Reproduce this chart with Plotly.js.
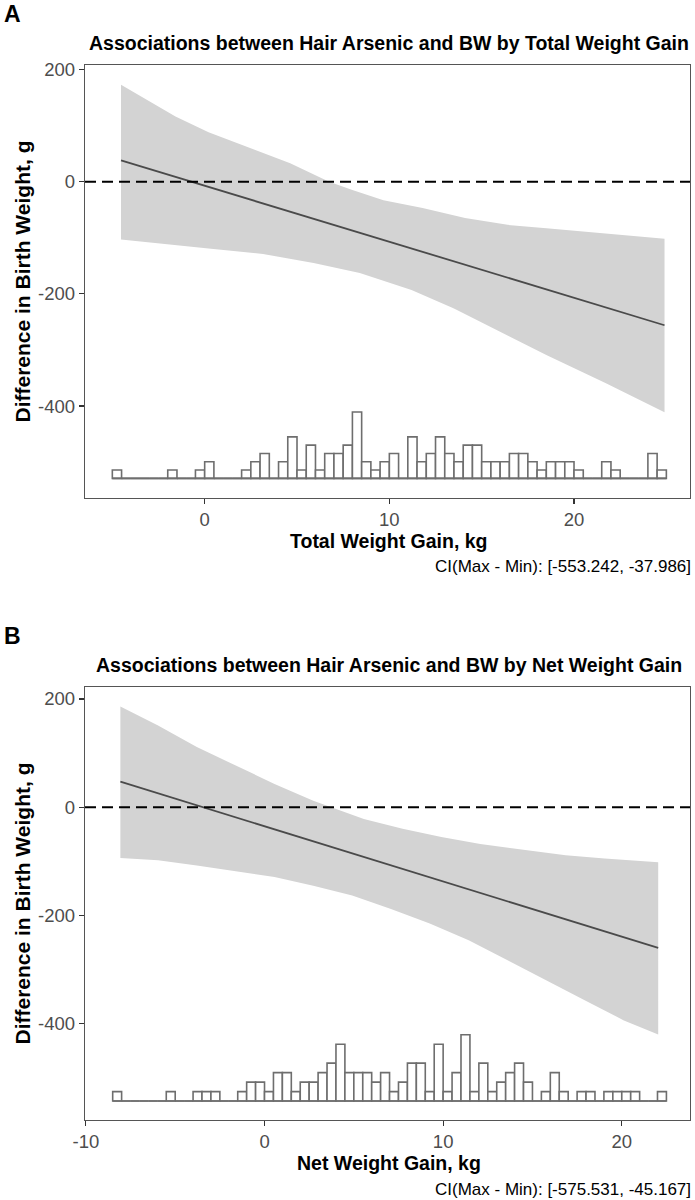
<!DOCTYPE html>
<html>
<head>
<meta charset="utf-8">
<script src="https://cdn.plot.ly/plotly-3.0.1.min.js"></script>
<style>
html,body{margin:0;padding:0;background:#fff;}
#chart{width:695px;height:1200px;}
</style>
</head>
<body>
<div id="chart"></div>
<script>
// ---------- Panel A : Total Weight Gain ----------
const titleA = "Associations between Hair Arsenic and BW by Total Weight Gain";
const xTitleA = "Total Weight Gain, kg";
const ciTextA = "CI(Max - Min): [-553.242, -37.986]";
const lineA_x = [-4.53, 24.9];
const lineA_y = [38, -256];
const upperA_x = [-4.53, -1.58, 0.21, 2.1, 4.63, 6.74, 8.0, 9.68, 11.8, 14.1, 16.4, 18.5, 20.6, 24.9];
const upperA_y = [173, 116, 88, 65, 33, 0, -15, -33, -47, -65, -77, -83, -89, -102];
const lowerA_x = [-4.53, -2.53, 0.21, 3.16, 5.9, 8.4, 11.2, 13.5, 16.0, 18.5, 21.7, 24.9];
const lowerA_y = [-103, -110, -119, -129, -145, -163, -193, -226, -267, -309, -359, -411];
const histA_start = -5;
const histA_counts = [1,0,0,0,0,0,1,0,0,1,
                      2,0,0,0,1,2,3,0,2,5,
                      1,4,1,3,3,4,8,2,1,2,
                      3,0,5,2,3,5,3,2,4,4,
                      2,2,2,3,3,2,1,2,2,2,
                      1,0,0,2,1,0,0,0,3,1];
const xTickValsA = [0, 10, 20];
const xTickTextA = ["0", "10", "20"];

// ---------- Panel B : Net Weight Gain ----------
const titleB = "Associations between Hair Arsenic and BW by Net Weight Gain";
const xTitleB = "Net Weight Gain, kg";
const ciTextB = "CI(Max - Min): [-575.531, -45.167]";
const lineB_x = [-8.07, 22.04];
const lineB_y = [47, -260];
const upperB_x = [-8.07, -5.96, -3.79, -1.62, 0.56, 2.73, 3.82, 5.56, 7.73, 9.9, 12.08, 14.25, 16.86, 19.04, 22.04];
const upperB_y = [186, 151, 111, 77, 43, 12, -1, -22, -40, -55, -68, -77, -89, -95, -102];
const lowerB_x = [-8.07, -5.96, -3.79, -1.62, 0.56, 2.73, 4.91, 7.08, 9.25, 11.43, 13.6, 15.78, 17.95, 20.12, 22.04];
const lowerB_y = [-94, -98, -108, -118, -129, -145, -163, -188, -215, -246, -283, -320, -357, -394, -420];
const histB_start = -8.5;
const histB_counts = [1,0,0,0,0,0,1,0,0,1,
                      1,1,0,0,1,2,2,1,3,3,
                      1,2,2,3,4,6,3,3,3,2,
                      3,1,2,4,4,1,6,1,3,7,
                      1,4,1,2,3,4,2,0,1,3,
                      1,0,1,1,0,1,1,1,1,0,
                      0,1];
const xTickValsB = [-10, 0, 10, 20];
const xTickTextB = ["-10", "0", "10", "20"];

// ---------- shared ----------
const binWidth = 0.5;
const yTickVals = [-400, -200, 0, 200];
const yTickText = ["-400", "-200", "0", "200"];
const yTitle = "Difference in Birth Weight, g";
const refValue = 0;

const FONT = "Liberation Sans, Arial, Helvetica, sans-serif";
const bandColor = "#D3D3D3";
const lineColor = "#4A4A4A";
const histColor = "#6E6E6E";

function panelTraces(xa, ya, yh, ux, uy, lx, ly, lnx, lny, hStart, counts) {
  const bx = ux.concat(lx.slice().reverse());
  const by = uy.concat(ly.slice().reverse());
  const centers = counts.map((c, i) => hStart + binWidth * (i + 0.5));
  const hEnd = hStart + binWidth * counts.length;
  return [
    {type:'scatter', mode:'lines', x:bx, y:by, fill:'toself', fillcolor:bandColor,
     line:{width:0, color:bandColor}, xaxis:xa, yaxis:ya, hoverinfo:'skip'},
    {type:'scatter', mode:'lines', x:lnx, y:lny, line:{color:lineColor, width:1.8},
     xaxis:xa, yaxis:ya, hoverinfo:'skip'},
    {type:'scatter', mode:'lines', x:[hStart, hEnd], y:[0, 0], line:{color:histColor, width:1.6},
     xaxis:xa, yaxis:yh, hoverinfo:'skip'},
    {type:'bar', x:centers, y:counts, width:binWidth, marker:{color:'#FFFFFF', line:{color:histColor, width:1.6}},
     xaxis:xa, yaxis:yh, hoverinfo:'skip'}
  ];
}

const data = [].concat(
  panelTraces('x', 'y', 'y3', upperA_x, upperA_y, lowerA_x, lowerA_y, lineA_x, lineA_y, histA_start, histA_counts),
  panelTraces('x2', 'y2', 'y4', upperB_x, upperB_y, lowerB_x, lowerB_y, lineB_x, lineB_y, histB_start, histB_counts)
);

const H = 1200;
const L = 85, R = 690;               // plot frame left/right (px)
const W = R - L;
const py = p => 1 - p / H;           // pixel row -> paper y
const px = p => (p - L) / W;         // pixel col -> paper x

const axisCommon = {
  showgrid:false, zeroline:false, showline:true, mirror:true,
  linecolor:'#555555', linewidth:1.2,
  ticks:'outside', ticklen:5, tickwidth:1.2, tickcolor:'#333333',
  tickfont:{family:FONT, size:18.5, color:'#4D4D4D'},
  tickmode:'array', fixedrange:true
};

const frameA = [65, 498], frameB = [687, 1120];

const layout = {
  width:695, height:1200,
  margin:{l:L, r:695 - R, t:0, b:0, pad:0},
  paper_bgcolor:'#FFFFFF', plot_bgcolor:'#FFFFFF',
  showlegend:false, bargap:0,
  font:{family:FONT, color:'#000'},
  xaxis:Object.assign({}, axisCommon, {domain:[0,1], range:[-6.48, 26.28], anchor:'y', tickvals:xTickValsA, ticktext:xTickTextA}),
  yaxis:Object.assign({}, axisCommon, {domain:[py(frameA[1]), py(frameA[0])], range:[-564, 208], anchor:'x', tickvals:yTickVals, ticktext:yTickText}),
  yaxis3:{overlaying:'y', anchor:'x', range:[-2.365, 49.8], visible:false, fixedrange:true},
  xaxis2:Object.assign({}, axisCommon, {domain:[0,1], range:[-10.05, 23.82], anchor:'y2', tickvals:xTickValsB, ticktext:xTickTextB}),
  yaxis2:Object.assign({}, axisCommon, {domain:[py(frameB[1]), py(frameB[0])], range:[-578, 222], anchor:'x2', tickvals:yTickVals, ticktext:yTickText}),
  yaxis4:{overlaying:'y2', anchor:'x2', range:[-2.0, 43.7], visible:false, fixedrange:true},
  shapes:[
    {type:'line', xref:'x domain', yref:'y', x0:0, x1:1, y0:refValue, y1:refValue, layer:'above',
     line:{color:'#000', width:2, dash:'11px,6px'}},
    {type:'line', xref:'x2 domain', yref:'y2', x0:0, x1:1, y0:refValue, y1:refValue, layer:'above',
     line:{color:'#000', width:2, dash:'11px,6px'}}
  ],
  annotations:[]
};

function addPanelText(label, title, xTitle, ci, off) {
  const A = layout.annotations;
  A.push({text:label, xref:'paper', yref:'paper', x:px(2), y:py(14 + off), xanchor:'left', yanchor:'middle',
          showarrow:false, font:{family:FONT, size:23, color:'#000', weight:700}});
  A.push({text:title, xref:'paper', yref:'paper', x:px(389), y:py(43 + off), xanchor:'center', yanchor:'middle',
          showarrow:false, font:{family:FONT, size:19.5, color:'#000', weight:700}});
  A.push({text:yTitle, xref:'paper', yref:'paper', x:px(22), y:py(281.5 + off), xanchor:'center', yanchor:'middle',
          textangle:-90, showarrow:false, font:{family:FONT, size:21, color:'#000', weight:700}});
  A.push({text:xTitle, xref:'paper', yref:'paper', x:px(389), y:py(541 + off), xanchor:'center', yanchor:'middle',
          showarrow:false, font:{family:FONT, size:19.5, color:'#000', weight:700}});
  A.push({text:ci, xref:'paper', yref:'paper', x:px(693), y:py(567 + off), xanchor:'right', yanchor:'middle',
          showarrow:false, font:{family:FONT, size:17, color:'#000'}});
}
addPanelText('A', titleA, xTitleA, ciTextA, 0);
addPanelText('B', titleB, xTitleB, ciTextB, frameB[0] - frameA[0]);

Plotly.newPlot('chart', data, layout, {staticPlot:true, displayModeBar:false});
</script>
</body>
</html>
